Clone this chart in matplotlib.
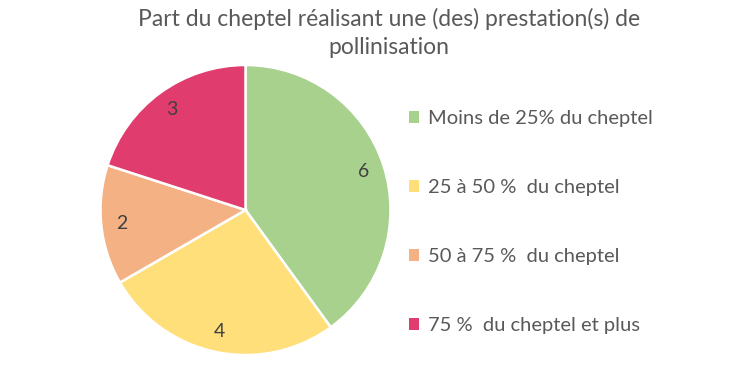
import matplotlib
matplotlib.use("Agg")
import matplotlib.pyplot as plt

categories = ["Moins de 25% du cheptel", "25 à 50 %  du cheptel",
              "50 à 75 %  du cheptel", "75 %  du cheptel et plus"]
values = [6, 4, 2, 3]
colors = ["#a9d18e", "#ffdf7a", "#f4b183", "#e03c6e"]
title = "Part du cheptel réalisant une (des) prestation(s) de\npollinisation"

plt.rcParams['font.family'] = ['Lato', 'DejaVu Sans']
text_color = "#595959"

fig = plt.figure(figsize=(7.3, 3.72), dpi=100)
ax = fig.add_axes([245.5/730 - 145/730, (372-210-145)/372, 290/730, 290/372])
wedges, texts = ax.pie(values, colors=colors, startangle=90, counterclock=False,
                       labels=[str(v) for v in values], labeldistance=0.86,
                       wedgeprops=dict(edgecolor="white", linewidth=1.8),
                       textprops=dict(color="#404040", fontsize=14))
for t in texts:
    t.set_ha("center")
    t.set_va("center")
ax.set_aspect("equal")
ax.set_xlim(-1, 1)
ax.set_ylim(-1, 1)

fig.text(0.533, 1 - 33/372, title, ha="center", va="center", fontsize=16.5,
         color=text_color, linespacing=1.36)

leg = fig.legend(wedges, categories, loc="upper left",
                 bbox_to_anchor=(401/730, 1 - 102/372), frameon=False,
                 fontsize=14.5, labelcolor=text_color, handlelength=0.5,
                 handleheight=0.5, handletextpad=0.45, labelspacing=2.58,
                 borderaxespad=0)
for h in leg.legend_handles:
    h.set_edgecolor("none")

fig.savefig("out.png", dpi=100)
